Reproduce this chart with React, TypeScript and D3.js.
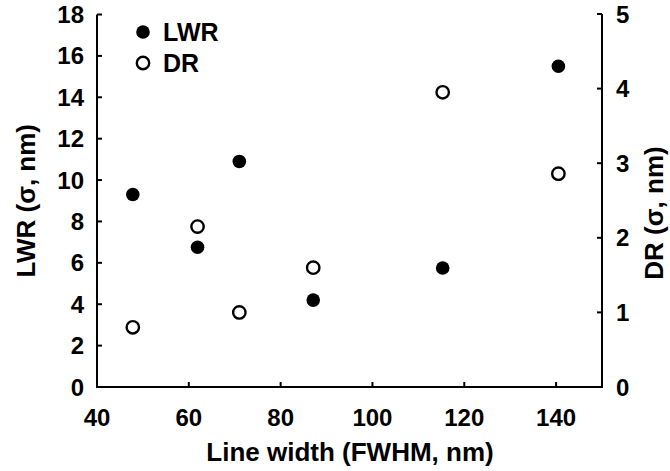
import React from "react";
import * as d3 from "d3";

// Line width (FWHM, nm) for each sample
const lineWidth = [47.8, 61.9, 71.0, 87.1, 115.3, 140.5];
// Line width roughness (σ, nm) – left axis
const lwr = [9.3, 6.75, 10.9, 4.2, 5.75, 15.5];
// Displacement roughness (σ, nm) – right axis
const dr = [0.8, 2.15, 1.0, 1.6, 3.95, 2.86];

const xTicks = [40, 60, 80, 100, 120, 140];
const yLeftTicks = [0, 2, 4, 6, 8, 10, 12, 14, 16, 18];
const yRightTicks = [0, 1, 2, 3, 4, 5];

const W = 670;
const H = 471;
const FONT = "'Liberation Sans', Arial, sans-serif";

export default function App() {
  const x = d3.scaleLinear().domain([40, 150]).range([97, 602]);
  const yL = d3.scaleLinear().domain([0, 18]).range([387, 14.5]);
  const yR = d3.scaleLinear().domain([0, 5]).range([387, 14]);
  const tick = 5;
  const rFill = 6.8;
  const rOpen = 6.2;

  return (
    <svg
      width={W}
      height={H}
      style={{ position: "absolute", left: 0, top: 0, background: "#fff" }}
      fontFamily={FONT}
      fontWeight="bold"
    >
      {/* axes */}
      <g stroke="#000" strokeWidth={2} fill="none">
        <line x1={x(40)} x2={x(40)} y1={yL(18)} y2={yL(0) + 1} />
        <line x1={x(150)} x2={x(150)} y1={yR(5)} y2={yR(0) + 1} />
        <line x1={x(40) - 1} x2={x(150) + 1} y1={yL(0)} y2={yL(0)} />
        {xTicks.map((t) => (
          <line key={"xt" + t} x1={x(t)} x2={x(t)} y1={yL(0)} y2={yL(0) - tick} />
        ))}
        {yLeftTicks.map((t) => (
          <line key={"yl" + t} x1={x(40)} x2={x(40) + tick} y1={yL(t)} y2={yL(t)} />
        ))}
        {yRightTicks.map((t) => (
          <line key={"yr" + t} x1={x(150)} x2={x(150) - tick} y1={yR(t)} y2={yR(t)} />
        ))}
      </g>

      {/* tick labels */}
      <g fontSize={24} fill="#000">
        {xTicks.map((t) => (
          <text key={"xl" + t} x={x(t)} y={426} textAnchor="middle">
            {t}
          </text>
        ))}
        {yLeftTicks.map((t) => (
          <text key={"yll" + t} x={84} y={yL(t) + 8.5} textAnchor="end">
            {t}
          </text>
        ))}
        {yRightTicks.map((t) => (
          <text key={"yrl" + t} x={616} y={yR(t) + 8.5} textAnchor="start">
            {t}
          </text>
        ))}
      </g>

      {/* axis titles */}
      <g fontSize={26} fill="#000">
        <text x={350} y={461} textAnchor="middle">
          Line width (FWHM, nm)
        </text>
        <text transform={`translate(35, ${(yL(0) + yL(18)) / 2}) rotate(-90)`} textAnchor="middle">
          LWR (σ, nm)
        </text>
        <text transform={`translate(663, 213) rotate(-90)`} textAnchor="middle">
          DR (σ, nm)
        </text>
      </g>

      {/* LWR points */}
      {lineWidth.map((w, i) => (
        <circle key={"l" + i} cx={x(w)} cy={yL(lwr[i])} r={rFill} fill="#000" />
      ))}
      {/* DR points */}
      {lineWidth.map((w, i) => (
        <circle
          key={"d" + i}
          cx={x(w)}
          cy={yR(dr[i])}
          r={rOpen}
          fill="#fff"
          stroke="#000"
          strokeWidth={2.4}
        />
      ))}

      {/* legend */}
      <circle cx={143} cy={32} r={rFill} fill="#000" />
      <text x={163} y={41} fontSize={25}>LWR</text>
      <circle cx={143} cy={63} r={rOpen} fill="#fff" stroke="#000" strokeWidth={2.4} />
      <text x={163} y={72} fontSize={25}>DR</text>
    </svg>
  );
}
